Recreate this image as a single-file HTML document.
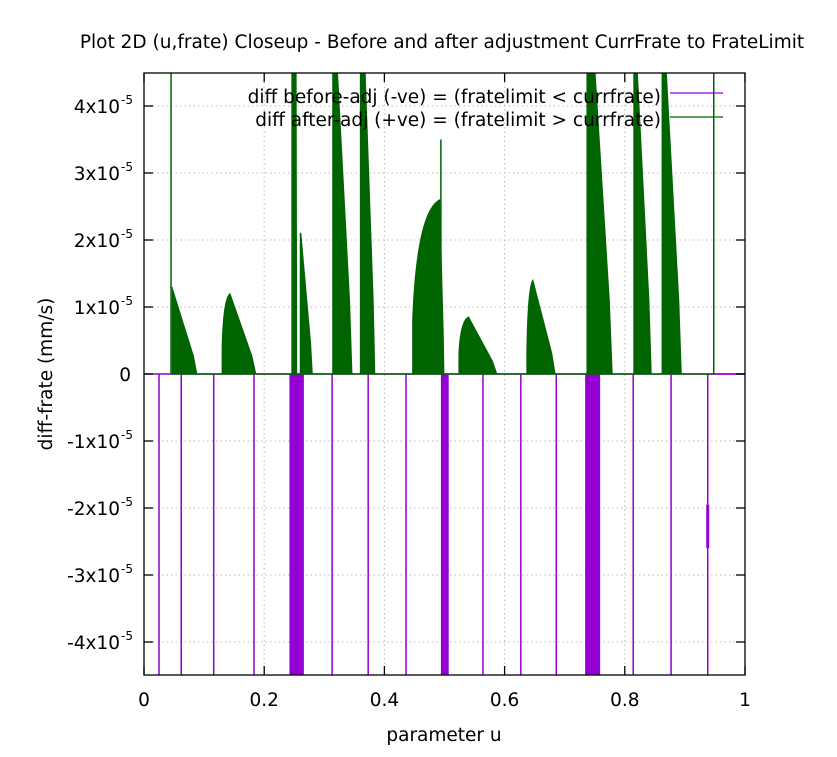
<!DOCTYPE html>
<html><head><meta charset="utf-8"><style>
body{margin:0;background:#fff;}
svg text{font-family:"DejaVu Sans","Liberation Sans",sans-serif;fill:#000;}
</style></head><body>
<svg id="chart" width="837" height="752" xmlns="http://www.w3.org/2000/svg">
<rect width="837" height="752" fill="#fff"/>
<text x="442" y="48" font-size="18.5" text-anchor="middle">Plot 2D (u,frate) Closeup - Before and after adjustment CurrFrate to FrateLimit</text>
<defs><clipPath id="clip"><rect x="144" y="73" width="601" height="602"/></clipPath></defs>
<g id="grid"></g>
<g id="series" clip-path="url(#clip)"></g>
<rect x="144" y="73" width="601" height="602" fill="none" stroke="#000" stroke-width="1.3"/>
<g id="axes"></g>
<text transform="translate(52,374) rotate(-90)" font-size="18.5" text-anchor="middle">diff-frate (mm/s)</text>
<text x="444" y="741" font-size="18.5" text-anchor="middle">parameter u</text>
<g>
<text x="661" y="103" font-size="18.5" text-anchor="end">diff before-adj (-ve) = (fratelimit &lt; currfrate)</text>
<line x1="670" y1="93" x2="723" y2="93" stroke="#9400d3" stroke-width="1.3"/>
<text x="661" y="126" font-size="18.5" text-anchor="end">diff after-adj (+ve) = (fratelimit &gt; currfrate)</text>
<line x1="670" y1="117" x2="723" y2="117" stroke="#006400" stroke-width="1.3"/>
</g>
</svg>
<script>
// y values in units of 1e-5
const xTicks=[0,0.2,0.4,0.6,0.8,1];
const xTickLabels=["0","0.2","0.4","0.6","0.8","1"];
const yTicks=[4,3,2,1,0,-1,-2,-3,-4];
const yTickLabels=["4x10","3x10","2x10","1x10","0","-1x10","-2x10","-3x10","-4x10"];
// purple (before-adj) negative drops: single lines
const dropU=[0.025,0.062,0.116,0.183,0.313,0.373,0.436,0.564,0.627,0.686,0.814,0.877,0.938];
// purple dense bands [start,end]
const bandStart=[0.242,0.494,0.734];
const bandEnd=[0.266,0.507,0.759];
// green bumps: left edge u/value, peak u/value, end u
const bumpU0=[0.047,0.130,0.246,0.260,0.314,0.360,0.447,0.524,0.637,0.737,0.815,0.862];
const bumpV0=[1.3,0.4,5,2.1,5,5,0.8,0.3,0.3,5,5,5];
const bumpU1=[0.048,0.143,0.253,0.261,0.319,0.366,0.492,0.540,0.647,0.747,0.818,0.866];
const bumpV1=[1.25,1.2,5,2.1,5,5,2.6,0.85,1.4,5,5,5];
const bumpU2=[0.088,0.186,0.254,0.280,0.346,0.384,0.499,0.587,0.684,0.779,0.844,0.894];
// thin green spikes
const spikeU=[0.045,0.494,0.948];
const spikeV=[5,3.5,5];

const NS="http://www.w3.org/2000/svg";
const X0=144,X1=745,Y0=374,PY=67;
const sx=u=>X0+u*(X1-X0);
const sy=v=>Y0-v*PY;
function mk(tag,attrs,parent){const e=document.createElementNS(NS,tag);for(const k in attrs)e.setAttribute(k,attrs[k]);parent.appendChild(e);return e;}
const grid=document.getElementById('grid'),ser=document.getElementById('series'),axes=document.getElementById('axes');
xTicks.forEach((t,i)=>{
  const x=sx(t);
  if(t>0&&t<1){const g=mk('line',{x1:x,y1:73,x2:x,y2:675,stroke:'#bbb','stroke-dasharray':'1.5,3','stroke-width':1},grid);
  
  }
  const a=mk('line',{x1:x,y1:675,x2:x,y2:666,stroke:'#000','stroke-width':1.3},axes);
  
  
  const b=mk('line',{x1:x,y1:73,x2:x,y2:82,stroke:'#000','stroke-width':1.3},axes);
  
  
  const l=mk('text',{x:x,y:706,'font-size':18.5,'text-anchor':'middle'},axes);
  l.textContent=xTickLabels[i];
  
  
});
yTicks.forEach((t,i)=>{
  const y=sy(t);
  if(t!==0){const g=mk('line',{x1:144,y1:y,x2:745,y2:y,stroke:'#bbb','stroke-dasharray':'1.5,3','stroke-width':1},grid);
  
  }
  const a=mk('line',{x1:144,y1:y,x2:153,y2:y,stroke:'#000','stroke-width':1.3},axes);
  
  
  const b=mk('line',{x1:745,y1:y,x2:736,y2:y,stroke:'#000','stroke-width':1.3},axes);
  
  
  const l=mk('text',{x:t===0?131:120,y:y+7,'font-size':18.5,'text-anchor':'end'},axes);
  l.textContent=yTickLabels[i];
  
  
  if(t!==0){const s=mk('text',{x:121,y:y-2,'font-size':12},axes);s.textContent='-5';
  
  }
});
// purple baseline
const pb=mk('line',{x1:X0,y1:sy(0),x2:X1,y2:sy(0),stroke:'#9400d3','stroke-width':1.5},ser);


dropU.forEach(u=>{
  const l=mk('line',{x1:sx(u),y1:sy(0),x2:sx(u),y2:sy(-5),stroke:'#9400d3','stroke-width':1.5},ser);
  
  
});
bandStart.forEach((u,i)=>{
  const r=mk('rect',{x:sx(u),y:sy(0),width:sx(bandEnd[i])-sx(u),height:sy(-5)-sy(0),fill:'#9400d3'},ser);
  
  
});
const seg=mk('line',{x1:sx(0.938),y1:sy(-1.95),x2:sx(0.938),y2:sy(-2.6),stroke:'#9400d3','stroke-width':3},ser);


// green
const gb=mk('line',{x1:sx(0.045),y1:sy(0),x2:sx(0.948),y2:sy(0),stroke:'#006400','stroke-width':1.5},ser);


bumpU0.forEach((u,i)=>{
  const a=sx(u),b=sx(bumpU1[i]),c=sx(bumpU2[i]);
  const v0=sy(bumpV0[i]),v1=sy(bumpV1[i]);
  const riseCtrlX=a+(b-a)*0.15, riseCtrlY=sy(bumpV1[i]*0.9+bumpV0[i]*0.1);
  const fallMidX=b+(c-b)*0.85, fallMidY=sy(bumpV1[i]*0.22);
  const d=`M${a},${sy(0)} L${a},${v0} Q${riseCtrlX},${riseCtrlY} ${b},${v1} L${fallMidX},${fallMidY} L${c},${sy(0)} Z`;
  const p=mk('path',{d:d,fill:'#006400',stroke:'#006400','stroke-width':1},ser);
  
  
});
spikeU.forEach((u,i)=>{
  const l=mk('line',{x1:sx(u),y1:sy(0),x2:sx(u),y2:sy(spikeV[i]),stroke:'#006400','stroke-width':1.5},ser);
  
  
});
const pe=mk('line',{x1:sx(0.948),y1:sy(0),x2:X1,y2:sy(0),stroke:'#9400d3','stroke-width':1.5},ser);


</script>
</body></html>
